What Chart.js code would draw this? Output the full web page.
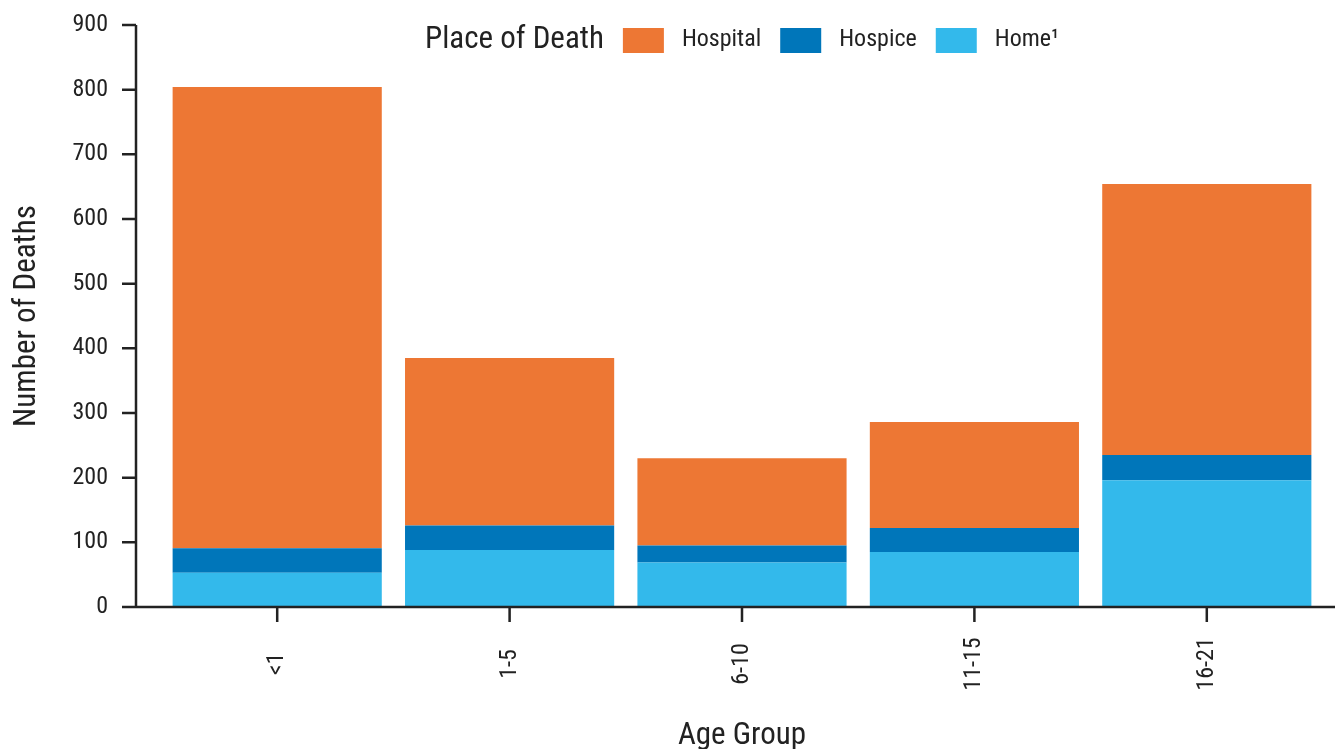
<!DOCTYPE html>
<html>
<head>
<meta charset="utf-8">
<script src="https://cdn.jsdelivr.net/npm/chart.js@4.4.1/dist/chart.umd.min.js"></script>
<style>
  body { margin: 0; background: #fff; }
</style>
</head>
<body>
<canvas id="myChart" width="1335" height="749"></canvas>
<script>
// values
const ageGroups = ["<1", "1-5", "6-10", "11-15", "16-21"];
const homeDeaths = [53, 88, 69, 85, 196];
const hospiceDeaths = [38, 38, 26, 37, 39];
const hospitalDeaths = [713, 259, 135, 164, 419];
const yTicks = [0, 100, 200, 300, 400, 500, 600, 700, 800, 900];

const fontName = "'Roboto Condensed', 'Liberation Sans Narrow', 'DejaVu Sans Condensed', Roboto, sans-serif";
const ink = "#222222";
const legendTitle = "Place of Death";

// axes sit a bit left of the bars, so they are drawn here, plus the inline legend
const axesAndLegend = {
  id: "axesAndLegend",
  afterDraw(chart) {
    const ctx = chart.ctx;
    const area = chart.chartArea;
    const xs = chart.scales.x;
    const ys = chart.scales.y;
    const axisX = area.left - 25;

    ctx.save();
    ctx.strokeStyle = ink;
    ctx.lineWidth = 2.5;
    ctx.beginPath();
    ctx.moveTo(axisX, ys.getPixelForValue(yTicks[yTicks.length - 1]));
    ctx.lineTo(axisX, area.bottom);
    ctx.moveTo(axisX - 14, area.bottom);
    ctx.lineTo(chart.width, area.bottom);
    yTicks.forEach(v => {
      const y = ys.getPixelForValue(v);
      ctx.moveTo(axisX - 14, y);
      ctx.lineTo(axisX, y);
    });
    ageGroups.forEach((g, i) => {
      const x = xs.getPixelForValue(i);
      ctx.moveTo(x, area.bottom);
      ctx.lineTo(x, area.bottom + 15);
    });
    ctx.stroke();

    // rotated category labels, centred under the ticks
    ctx.fillStyle = ink;
    ctx.font = "24px " + fontName;
    ctx.textAlign = "center";
    ctx.textBaseline = "middle";
    ageGroups.forEach((g, i) => {
      ctx.save();
      ctx.translate(xs.getPixelForValue(i), area.bottom + 57);
      ctx.rotate(-Math.PI / 2);
      ctx.fillText(g, 0, 0);
      ctx.restore();
    });

    // legend: title then Hospital, Hospice, Home
    const items = [2, 1, 0].map(i => chart.data.datasets[i]);
    ctx.textAlign = "left";
    ctx.font = "31px " + fontName;
    const titleW = ctx.measureText(legendTitle).width;
    ctx.font = "24px " + fontName;
    let total = titleW;
    items.forEach(d => { total += 19 + 41 + 18 + ctx.measureText(d.label).width; });
    let x = (area.left + area.right) / 2 - total / 2;
    const cy = 40;
    ctx.font = "31px " + fontName;
    ctx.fillText(legendTitle, x, cy);
    x += titleW + 19;
    ctx.font = "24px " + fontName;
    items.forEach(d => {
      ctx.fillStyle = d.backgroundColor;
      ctx.fillRect(x, cy - 12, 41, 25);
      x += 41 + 18;
      ctx.fillStyle = ink;
      ctx.fillText(d.label, x, cy);
      x += ctx.measureText(d.label).width + 19;
    });
    ctx.restore();
  }
};

new Chart("myChart", {
  type: "bar",
  data: {
    labels: ageGroups,
    datasets: [
      { label: "Home\u00B9", data: homeDeaths, backgroundColor: "#33B9EB" },
      { label: "Hospice", data: hospiceDeaths, backgroundColor: "#0076BA" },
      { label: "Hospital", data: hospitalDeaths, backgroundColor: "#ED7734" }
    ]
  },
  options: {
    responsive: false,
    animation: false,
    layout: { padding: { top: 25, right: 12 } },
    datasets: { bar: { barPercentage: 0.9, categoryPercentage: 1, borderWidth: 0 } },
    plugins: { legend: { display: false }, tooltip: { enabled: false } },
    scales: {
      x: {
        stacked: true,
        grid: { display: false, drawTicks: false },
        border: { display: false },
        ticks: { display: false },
        title: {
          display: true, text: "Age Group", color: ink, padding: 0,
          font: { family: fontName, size: 31, lineHeight: 0.85 }
        },
        afterFit(s) { s.height = 142; }
      },
      y: {
        stacked: true,
        min: 0,
        max: 900,
        grid: { display: false, drawTicks: false },
        border: { display: false },
        ticks: { color: ink, padding: 53, font: { family: fontName, size: 24 } },
        afterBuildTicks(s) { s.ticks = yTicks.map(v => ({ value: v })); },
        title: {
          display: true, text: "Number of Deaths", color: ink, padding: { top: 9 },
          font: { family: fontName, size: 31, lineHeight: 1.2 }
        },
        afterFit(s) {
          s.width = 161;
          s.paddingTop = 0;
          s.paddingBottom = 0;
        }
      }
    }
  },
  plugins: [axesAndLegend]
});
</script>
</body>
</html>
